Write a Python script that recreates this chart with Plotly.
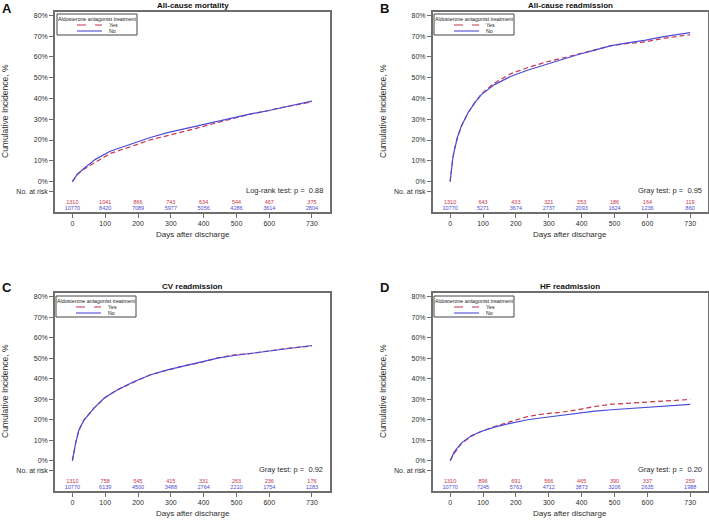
import plotly.graph_objects as go

# ---------------- data ----------------
x_ticks = [0, 100, 200, 300, 400, 500, 600, 730]
y_tick_vals = [-5, 0, 10, 20, 30, 40, 50, 60, 70, 80]
y_tick_text = ["No. at risk", "0%", "10%", "20%", "30%", "40%", "50%", "60%", "70%", "80%"]

panel_letters = ["A", "B", "C", "D"]
panel_titles = ["All-cause mortality", "All-cause readmission", "CV readmission", "HF readmission"]
test_texts = ["Log-rank test: p =  0.88", "Gray test: p =  0.95", "Gray test: p =  0.92", "Gray test: p =  0.20"]
legend_title = "Aldosterone antagonist treatment"
group_names = ["Yes", "No"]

# A: all-cause mortality
a_days = [0, 15, 35, 70, 115, 185, 235, 290, 340, 390, 440, 490, 540, 595, 645, 730]
a_yes = [0, 3.4, 6.0, 9.4, 13.5, 17.2, 20.0, 22.1, 24.1, 26.1, 28.2, 30.3, 32.4, 34.1, 35.9, 38.4]
a_no = [0, 3.6, 6.3, 10.7, 14.6, 18.4, 21.1, 23.6, 25.4, 27.3, 28.9, 31.0, 32.5, 34.1, 35.9, 38.7]
a_risk_yes = [1310, 1041, 866, 743, 634, 544, 467, 375]
a_risk_no = [10770, 8420, 7089, 5977, 5056, 4286, 3614, 2804]

# B: all-cause readmission
b_days = [0, 3, 8, 13, 23, 34, 54, 74, 95, 135, 185, 235, 290, 340, 390, 440, 490, 540, 595, 645, 730]
b_yes = [0, 5.0, 11.0, 15.3, 21.7, 26.6, 33.0, 37.8, 42.2, 47.5, 52.0, 54.8, 57.5, 59.4, 61.5, 63.6, 65.5, 66.5, 67.3, 68.9, 70.7]
b_no = [0, 5.0, 11.0, 15.3, 21.7, 26.6, 33.0, 37.8, 41.9, 46.7, 50.7, 53.6, 56.4, 58.8, 61.2, 63.3, 65.5, 66.8, 68.1, 69.7, 71.7]
b_risk_yes = [1310, 643, 433, 321, 253, 186, 164, 119]
b_risk_no = [10770, 5271, 3674, 2737, 2093, 1624, 1236, 860]

# C: CV readmission
c_days = [0, 5, 10, 20, 36, 66, 97, 137, 188, 239, 290, 341, 392, 443, 494, 545, 596, 646, 730]
c_yes = [0, 4.6, 8.8, 15.0, 20.1, 25.8, 30.5, 34.7, 38.6, 42.1, 44.3, 46.4, 48.0, 50.3, 51.7, 52.4, 53.6, 54.7, 56.1]
c_no = [0, 4.5, 8.6, 15.1, 20.0, 25.7, 30.6, 34.6, 38.7, 42.0, 44.4, 46.3, 48.1, 50.1, 51.4, 52.5, 53.7, 54.6, 56.3]
c_risk_yes = [1310, 758, 545, 415, 331, 263, 236, 176]
c_risk_no = [10770, 6139, 4500, 3488, 2764, 2210, 1754, 1283]

# D: HF readmission
d_days = [0, 5, 13, 34, 64, 94, 135, 186, 236, 287, 338, 389, 440, 491, 541, 592, 643, 730]
d_yes = [0, 1.6, 3.7, 8.3, 11.9, 14.3, 16.7, 19.2, 21.6, 22.9, 23.7, 24.9, 26.5, 27.6, 28.1, 28.6, 29.3, 29.9]
d_no = [0, 2.0, 4.5, 8.6, 12.2, 14.3, 16.4, 18.4, 20.0, 21.1, 22.1, 23.3, 24.2, 24.9, 25.4, 26.0, 26.5, 27.5]
d_risk_yes = [1310, 896, 691, 566, 465, 390, 337, 259]
d_risk_no = [10770, 7245, 5763, 4712, 3873, 3206, 2635, 1988]

panels = [
    (a_days, a_yes, a_no, a_risk_yes, a_risk_no),
    (b_days, b_yes, b_no, b_risk_yes, b_risk_no),
    (c_days, c_yes, c_no, c_risk_yes, c_risk_no),
    (d_days, d_yes, d_no, d_risk_yes, d_risk_no),
]

# ---------------- styling / layout ----------------
W, H = 709, 521
FONT = "Liberation Sans, Arial, sans-serif"
RED = "#c8344c"
BLUE = "#4b4bd8"
TXT = "#2e2e2e"
FRAME = "#6e6e6e"
RED_DASH = "5px,3px"


def fx(p):
    return p / W


def fy(p):
    return 1 - p / H


# pixel boxes: (left, right, top, bottom)
boxes = [(55, 330, 11.7, 212.3), (432.7, 708.3, 11.7, 212.3),
         (55, 330, 293.3, 491), (432.7, 708.3, 293.3, 491)]
letter_pos = [(7.5, 8.5), (384.5, 8.5), (7.5, 287), (384.5, 287)]
title_pos = [(192.5, 5), (570, 5), (192.5, 286), (570, 286)]
ytitle_pos = [(4.5, 111.5), (382.5, 111.5), (4.5, 391.5), (382.5, 391.5)]
xtitle_pos = [(192.5, 234), (570, 234), (192.5, 513), (570, 513)]
legend_pos = [(57, 14), (434, 14), (56, 296), (434, 296)]  # top-left of legend box
LEG_W, LEG_H = 80, 21

fig = go.Figure()
layout = dict(width=W, height=H, margin=dict(l=0, r=0, t=0, b=0),
              paper_bgcolor="white", plot_bgcolor="white", showlegend=False,
              font=dict(family=FONT, color=TXT), annotations=[], shapes=[])


def ann(text, x, y, size, color=TXT, **kw):
    d = dict(text=text, x=x, y=y, xref="paper", yref="paper", showarrow=False,
             xanchor="center", yanchor="middle", font=dict(size=size, color=color, family=FONT))
    d.update(kw)
    layout["annotations"].append(d)


legend_shapes = []
for i, (days, yes, no, ryes, rno) in enumerate(panels):
    k = "" if i == 0 else str(i + 1)
    xa, ya = "x" + k, "y" + k
    fig.add_trace(go.Scatter(x=days, y=yes, mode="lines", name=group_names[0],
                             line=dict(color=RED, width=1.2, dash=RED_DASH),
                             xaxis=xa, yaxis=ya, hoverinfo="skip"))
    fig.add_trace(go.Scatter(x=days, y=no, mode="lines", name=group_names[1],
                             line=dict(color=BLUE, width=1.2),
                             xaxis=xa, yaxis=ya, hoverinfo="skip"))
    fig.add_trace(go.Scatter(x=x_ticks, y=[-10.0] * len(x_ticks), mode="text",
                             text=[str(v) for v in ryes],
                             textfont=dict(color=RED, size=5.5, family=FONT),
                             xaxis=xa, yaxis=ya, hoverinfo="skip"))
    fig.add_trace(go.Scatter(x=x_ticks, y=[-13.2] * len(x_ticks), mode="text",
                             text=[str(v) for v in rno],
                             textfont=dict(color=BLUE, size=5.5, family=FONT),
                             xaxis=xa, yaxis=ya, hoverinfo="skip"))

    l, r, t, b = boxes[i]
    layout["xaxis" + k] = dict(domain=[fx(l), fx(r)], range=[-53, 785], anchor=ya,
                               tickvals=x_ticks, ticktext=[str(v) for v in x_ticks],
                               ticks="outside", ticklen=4, tickcolor=FRAME, tickwidth=1,
                               showline=True, mirror=True, linecolor=FRAME, linewidth=1.5,
                               showgrid=False, zeroline=False,
                               tickfont=dict(size=7, color=TXT, family=FONT))
    layout["yaxis" + k] = dict(domain=[fy(b), fy(t)], range=[-14.8, 81.8], anchor=xa,
                               tickvals=y_tick_vals, ticktext=y_tick_text,
                               ticks="outside", ticklen=4, tickcolor=FRAME, tickwidth=1,
                               showline=True, mirror=True, linecolor=FRAME, linewidth=1.5,
                               showgrid=False, zeroline=False,
                               tickfont=dict(size=7, color=TXT, family=FONT))

    # custom compact legend (box, title, samples, labels)
    lx, ly = legend_pos[i]
    legend_shapes.append(dict(type="rect", xref="paper", yref="paper", layer="above",
                              x0=fx(lx), x1=fx(lx + LEG_W), y0=fy(ly), y1=fy(ly + LEG_H),
                              line=dict(color="#444444", width=1), fillcolor="white"))
    ann(legend_title, fx(lx + LEG_W / 2), fy(ly + 5), 5.3, color="#222")
    for j, (nm, col, dash) in enumerate([(group_names[0], RED, "dash"), (group_names[1], BLUE, "solid")]):
        yy = ly + 11 + 6 * j
        legend_shapes.append(dict(type="line", xref="paper", yref="paper", layer="above",
                                  x0=fx(lx + 20), x1=fx(lx + 45), y0=fy(yy), y1=fy(yy),
                                  line=dict(color=col, width=1.1, dash=dash)))
        ann(nm, fx(lx + 50), fy(yy), 5.3, color="#222", xanchor="left")

    ann("<b>" + panel_letters[i] + "</b>", fx(letter_pos[i][0]), fy(letter_pos[i][1]), 13, color="#111")
    ann("<b>" + panel_titles[i] + "</b>", fx(title_pos[i][0]), fy(title_pos[i][1]), 8, color="#111")
    ann("Cumulative Incidence, %", fx(ytitle_pos[i][0]), fy(ytitle_pos[i][1]), 8.5, textangle=-90)
    ann("Days after discharge", fx(xtitle_pos[i][0]), fy(xtitle_pos[i][1]), 8)
    layout["annotations"].append(dict(text=test_texts[i], x=0.983, y=-4.1, xref=xa + " domain", yref=ya,
                                      showarrow=False, xanchor="right", yanchor="middle",
                                      font=dict(size=7.5, color=TXT, family=FONT)))

layout["shapes"] = legend_shapes
fig.update_layout(**layout)
fig.write_html("out.html", config={"displayModeBar": False},
               post_script="document.body.style.margin='0px';")
